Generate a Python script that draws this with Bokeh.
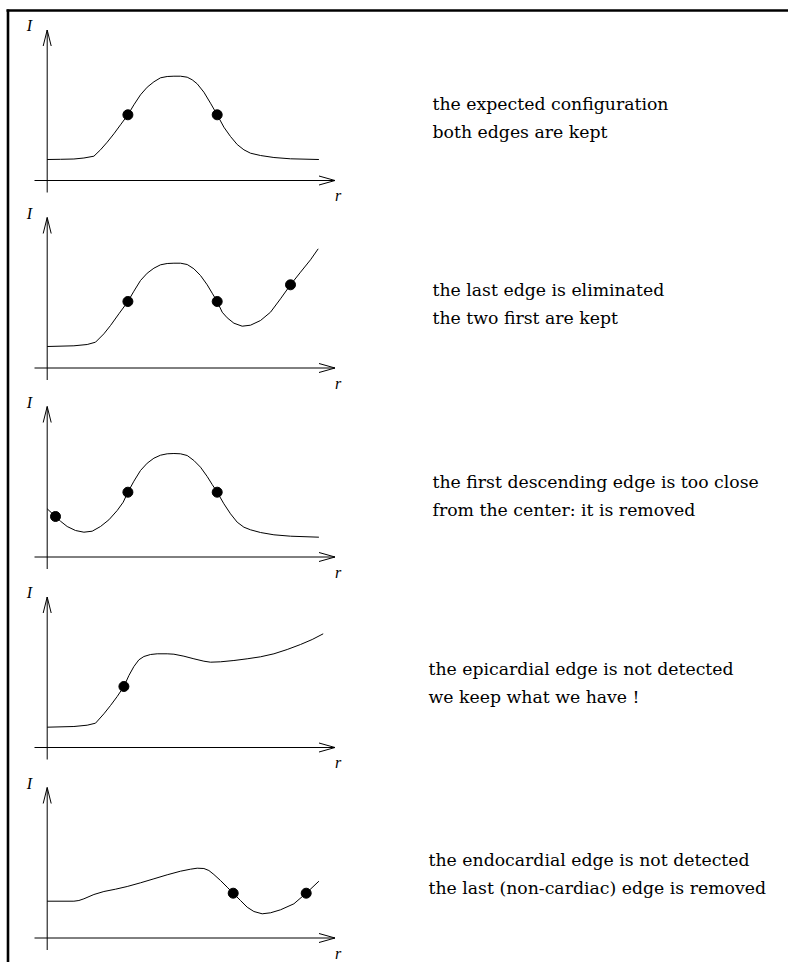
from bokeh.plotting import figure
from bokeh.models import Range1d
from bokeh.core.properties import value
from bokeh.embed import file_html
from bokeh.resources import INLINE

# Radial intensity profiles I(r): r counted from the centre (vertical axis),
# I counted upward from the horizontal axis.
p1_r = [0, 13.3, 26.7, 36.7, 46.7, 53.3, 60, 66.7, 73.3, 80.7, 86.7, 93.3, 100, 106.7, 113.3, 120,
        126.7, 133.3, 140, 145, 150, 156.7, 163.3, 170, 176.7, 183.3, 190, 196.7, 203.3, 213.3,
        226.7, 243.3, 271.7]
p1_I = [21, 21.2, 21.5, 22.5, 24.3, 30.7, 38.3, 46.7, 55.7, 65.7, 75.7, 85.7, 93.3, 98.7, 102.7, 104,
        104.3, 104.3, 103.3, 100.7, 96.7, 88.3, 77.3, 65.7, 53.3, 44, 36, 30.7, 27.3, 25,
        23, 21.7, 21]
p1_edge_r = [80.7, 170]
p1_edge_I = [65.7, 65.7]

p2_r = [0, 26.7, 40, 48.3, 56.7, 63.3, 71.7, 80.7, 86.7, 93.3, 100, 106.7, 113.3, 120, 126.7, 133.3,
        140, 146.7, 153.3, 160, 165, 170, 175, 180, 186.7, 195, 203.3, 213.3, 223.3, 233.3, 243.3,
        253.3, 263.3, 271]
p2_I = [21.5, 22.2, 23.5, 25.8, 34.2, 42.5, 54.2, 66.5, 76.8, 87.5, 94.8, 99.8, 103.2, 104.5, 104.8, 104.8,
        103.5, 99.2, 92.5, 83.2, 74.8, 66.5, 55.8, 50.2, 44.8, 41.8, 42.8, 47.5, 55.8, 69.2, 83.2,
        95.8, 108.2, 119.2]
p2_edge_r = [80.7, 170, 243.3]
p2_edge_I = [66.5, 66.5, 83.2]

p3_r = [0, 8.3, 13.3, 20, 28.3, 36.7, 45, 53.3, 61.7, 70, 76, 80.7, 86.7, 93.3, 100, 106.7, 113.3,
        120, 126.7, 133.3, 140, 146.7, 153.3, 160, 165, 170, 176.7, 183.3, 190, 196.7, 203.3, 213.3,
        226.7, 243.3, 271.7]
p3_I = [48.2, 40.5, 35.8, 30.5, 26.5, 24.8, 25.8, 30.5, 37.2, 46.5, 54.8, 64.8, 75.8, 86.5, 93.8, 98.8, 101.8,
        103.2, 103.5, 103.2, 101.5, 96.5, 89.8, 80.5, 72.5, 64.8, 53.2, 43.2, 34.8, 29.8, 27.2, 24.5,
        22.2, 20.8, 19.8]
p3_edge_r = [8.3, 80.7, 170]
p3_edge_I = [40.5, 64.8, 64.8]

p4_r = [0, 26.7, 40, 48.3, 56.7, 63.3, 70, 76.7, 81.7, 86.7, 91.7, 96.7, 103.3, 110, 120, 126.7, 136.7,
        146.7, 156.7, 163.3, 173.3, 186.7, 200, 213.3, 226.7, 240, 253.3, 265, 276]
p4_I = [20.3, 21, 22.3, 24.3, 33.7, 42, 51, 61, 72, 81, 87.7, 91, 93, 93.7, 93.7, 93.3, 91.3,
        88.7, 86.3, 85.3, 85.7, 87, 88.7, 90.7, 93.7, 98, 103, 108, 113.7]
p4_edge_r = [76.7]
p4_edge_I = [61]

p5_r = [0, 26.7, 31.7, 36.7, 46.7, 56.7, 68.3, 80, 93.3, 106.7, 120, 133.3, 143.3, 150, 156.7, 161.7,
        166.7, 173.3, 180, 186, 193.3, 200, 206.7, 215, 223.3, 233.3, 246.7, 259, 271.7]
p5_I = [36.8, 36.8, 37.5, 39.2, 43.5, 46.5, 48.8, 51.5, 55.2, 59.2, 63.2, 66.8, 68.8, 69.8, 69.5, 67.5,
        63.5, 57.5, 50.8, 44.8, 37.5, 30.8, 26.5, 24.2, 25.2, 28.2, 34.2, 44.8, 56.8]
p5_edge_r = [186, 259]
p5_edge_I = [44.8, 44.8]

captions = [
    ("the expected configuration", "both edges are kept"),
    ("the last edge is eliminated", "the two first are kept"),
    ("the first descending edge is too close", "from the center: it is removed"),
    ("the epicardial edge is not detected", "we keep what we have !"),
    ("the endocardial edge is not detected", "the last (non-cardiac) edge is removed"),
]

profiles = [
    (p1_r, p1_I, p1_edge_r, p1_edge_I),
    (p2_r, p2_I, p2_edge_r, p2_edge_I),
    (p3_r, p3_I, p3_edge_r, p3_edge_I),
    (p4_r, p4_I, p4_edge_r, p4_edge_I),
    (p5_r, p5_I, p5_edge_r, p5_edge_I),
]

# page layout (pixels): position of each small diagram's origin and its caption
W, H = 788, 962
origin_x = 46.7
axis_y = [180, 367.5, 556.5, 747, 937.5]
caption_x = [432, 432, 432, 428, 428]
caption_base = [103, 289, 481, 668, 859]
line_gap = 28

p = figure(width=W, height=H, x_range=Range1d(0, W), y_range=Range1d(H, 0),
           x_axis_type=None, y_axis_type=None, toolbar_location=None,
           output_backend="svg", min_border=0)
p.outline_line_color = None
p.grid.visible = False
p.background_fill_color = "white"
p.border_fill_color = "white"

# frame: rules along the top and the left edge
p.segment(x0=[6, 7.5], y0=[10, 9], x1=[W, 7.5], y1=[10, H],
          line_color="black", line_width=2.6)

serif = value("DejaVu Serif")
ital = value("Liberation Serif")

for k, (r, I, er, eI) in enumerate(profiles):
    ay = axis_y[k]
    # axes
    tip_x = origin_x + 287.8
    top_y = ay - 150.5
    p.segment(x0=[34, origin_x], y0=[ay, ay + 12], x1=[tip_x, origin_x], y1=[ay, top_y],
              line_color="black", line_width=1)
    # open arrow heads
    p.multi_line(xs=[[origin_x - 4, origin_x, origin_x + 4], [tip_x - 16, tip_x, tip_x - 16]],
                 ys=[[top_y + 16, top_y, top_y + 16], [ay - 4.5, ay, ay + 4.5]],
                 line_color="black", line_width=1)
    p.text(x=[29], y=[ay - 155], text=["I"], text_font=ital, text_font_style="italic",
           text_font_size="16px", text_align="center", text_baseline="middle", text_color="black")
    p.text(x=[337.5], y=[ay + 15], text=["r"], text_font=ital, text_font_style="italic",
           text_font_size="16px", text_align="center", text_baseline="middle", text_color="black")

    # profile curve and detected edges
    p.line(x=[origin_x + v for v in r], y=[ay - v for v in I],
           line_color="black", line_width=1, line_join="round")
    p.scatter(x=[origin_x + v for v in er], y=[ay - v for v in eI], size=10,
              fill_color="black", line_color="black")

    # caption
    b = caption_base[k]
    p.text(x=[caption_x[k]] * 2, y=[b, b + line_gap], text=list(captions[k]),
           text_font=serif, text_font_size="17.3px", text_align="left",
           text_baseline="alphabetic", text_color="black")

open("out.html", "w").write(file_html(p, INLINE))
